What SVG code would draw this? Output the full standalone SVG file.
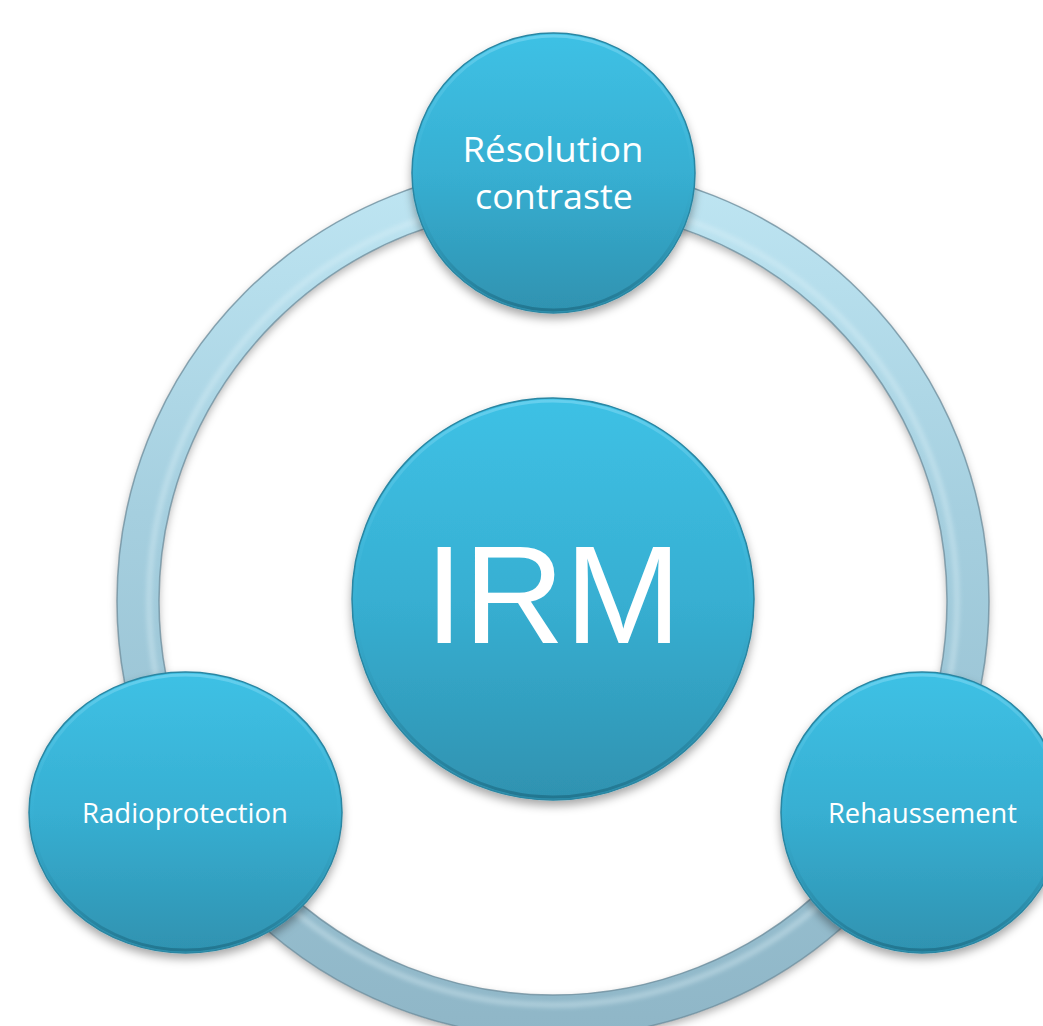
<svg xmlns="http://www.w3.org/2000/svg" width="1043" height="1026" viewBox="0 0 1043 1026">
  <style>
    .lbl { font-family: "Open Sans", "Noto Sans", "Liberation Sans", sans-serif; fill: #ffffff; text-anchor: middle; }
    .big { font-family: "Liberation Sans", Arial, sans-serif; fill: #ffffff; text-anchor: middle; font-size: 140px; }
    .node { fill: url(#nodeGrad); stroke: #2a86a2; stroke-width: 1.5; filter: url(#shadow); }
    .rim { fill: none; stroke: url(#rimGrad); stroke-width: 3; }
  </style>
  <defs>
    <linearGradient id="nodeGrad" x1="0" y1="0" x2="0" y2="1">
      <stop offset="0" stop-color="#3ec1e5"/>
      <stop offset="0.5" stop-color="#37afd2"/>
      <stop offset="1" stop-color="#2f92b0"/>
    </linearGradient>
    <linearGradient id="rimGrad" x1="0" y1="0" x2="0" y2="1">
      <stop offset="0" stop-color="#6fd3f0" stop-opacity="0.8"/>
      <stop offset="0.5" stop-color="#3ab3d6" stop-opacity="0.3"/>
      <stop offset="1" stop-color="#1f6f88" stop-opacity="0.8"/>
    </linearGradient>
    <linearGradient id="ringGrad" gradientUnits="userSpaceOnUse" x1="0" y1="165" x2="0" y2="1037">
      <stop offset="0" stop-color="#bfe6f3"/>
      <stop offset="0.4" stop-color="#a5cfdf"/>
      <stop offset="1" stop-color="#8fb6c7"/>
    </linearGradient>
    <filter id="shadow" x="-20%" y="-20%" width="140%" height="150%">
      <feDropShadow dx="0" dy="5" stdDeviation="5" flood-color="#000000" flood-opacity="0.35"/>
    </filter>
    <filter id="ringShadow" x="-10%" y="-10%" width="120%" height="120%">
      <feDropShadow dx="0" dy="4" stdDeviation="4" flood-color="#000000" flood-opacity="0.3"/>
    </filter>
    <filter id="soft" x="-10%" y="-10%" width="120%" height="120%">
      <feGaussianBlur stdDeviation="2"/>
    </filter>
  </defs>

  <rect x="0" y="0" width="1043" height="1026" fill="#ffffff"/>

  <g id="connectors">
    <g filter="url(#ringShadow)">
      <circle cx="553" cy="601" r="415" fill="none" stroke="url(#ringGrad)" stroke-width="42"/>
    </g>
    <circle cx="553" cy="601" r="404" fill="none" stroke="#e2f4fa" stroke-width="6" opacity="0.35" filter="url(#soft)"/>
    <circle cx="553" cy="601" r="436" fill="none" stroke="#6f8f9e" stroke-width="1.5" opacity="0.8"/>
    <circle cx="553" cy="601" r="394" fill="none" stroke="#6f8f9e" stroke-width="1.5" opacity="0.8"/>
  </g>

  <g id="node-irm">
    <circle class="node" cx="553" cy="599" r="201"/>
    <circle class="rim" cx="553" cy="599" r="198"/>
    <text class="big" x="553" y="643">IRM</text>
  </g>

  <g id="node-resolution">
    <ellipse class="node" cx="553.5" cy="173" rx="141.5" ry="140"/>
    <ellipse class="rim" cx="553.5" cy="173" rx="138.5" ry="137"/>
    <text class="lbl" font-size="34" x="553" y="162" textLength="181" lengthAdjust="spacingAndGlyphs">Résolution</text>
    <text class="lbl" font-size="34" x="554" y="209" textLength="158" lengthAdjust="spacingAndGlyphs">contraste</text>
  </g>

  <g id="node-radioprotection">
    <ellipse class="node" cx="185.5" cy="812.5" rx="156.5" ry="140.5"/>
    <ellipse class="rim" cx="185.5" cy="812.5" rx="153.5" ry="137.5"/>
    <text class="lbl" font-size="28" x="185" y="823" textLength="206" lengthAdjust="spacingAndGlyphs">Radioprotection</text>
  </g>

  <g id="node-rehaussement">
    <ellipse class="node" cx="922" cy="812.5" rx="141" ry="140.5"/>
    <ellipse class="rim" cx="922" cy="812.5" rx="138" ry="137.5"/>
    <text class="lbl" font-size="28" x="922.5" y="823" textLength="189" lengthAdjust="spacingAndGlyphs">Rehaussement</text>
  </g>
</svg>
